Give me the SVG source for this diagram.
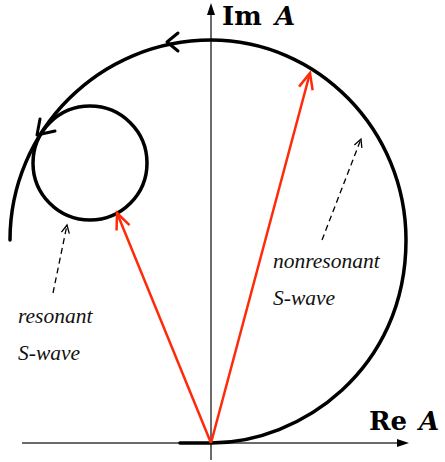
<svg xmlns="http://www.w3.org/2000/svg" width="445" height="462" viewBox="0 0 445 462">
  <style>
    .axis { stroke: #3a3a3a; stroke-width: 1.5; fill: none; }
    .curve { stroke: #000; stroke-width: 3.5; fill: none; stroke-linecap: round; stroke-linejoin: round; }
    .tick { stroke: #000; stroke-width: 3; fill: none; stroke-linecap: round; stroke-linejoin: round; }
    .vec { stroke: #ff2a0a; stroke-width: 2.5; fill: none; }
    .dash { stroke: #000; stroke-width: 1.3; fill: none; stroke-dasharray: 6 4; }
    .lbl { font-family: "Liberation Serif", serif; font-style: italic; font-size: 21.5px; fill: #111; }
    .axlbl { font-family: "DejaVu Serif", serif; font-weight: bold; font-size: 26px; fill: #000; }
  </style>
  <defs>
    <marker id="redHead" markerUnits="userSpaceOnUse" markerWidth="20" markerHeight="20" refX="0" refY="0" viewBox="-18 -10 20 20" orient="auto" overflow="visible">
      <path d="M -16 -7 L 0 0 L -16 7" stroke="#ff2a0a" stroke-width="2.5" fill="none"/>
    </marker>
    <marker id="dashHead" markerUnits="userSpaceOnUse" markerWidth="12" markerHeight="12" refX="0" refY="0" viewBox="-10 -6 12 12" orient="auto" overflow="visible">
      <path d="M -8 -4 L 0 0 L -8 4" stroke="#000" stroke-width="1.3" fill="none"/>
    </marker>
  </defs>

  <g id="axes">
    <line class="axis" x1="211" y1="14" x2="211" y2="460"/>
    <polygon points="211,3 207,15 215,15" fill="#000"/>
    <line class="axis" x1="22" y1="443" x2="398" y2="443"/>
    <polygon points="409,443 397,439 397,447" fill="#000"/>
  </g>

  <g id="label-im">
    <text class="axlbl" x="222" y="25">Im</text>
    <text class="axlbl" x="275" y="25" font-style="italic">A</text>
  </g>
  <g id="label-re">
    <text class="axlbl" x="369" y="430">Re</text>
    <text class="axlbl" x="419" y="430" font-style="italic">A</text>
  </g>

  <g id="nonresonant-curve">
    <path class="curve" d="M 180 443 L 211 443 C 300 443 406 370 406 240 C 406 130 318 40 211 40 C 100 40 10 130 10 240"/>
    <path class="tick" d="M 178 33 L 167 42 L 178 51"/>
    <path class="tick" d="M 40 119 L 37 135 L 55 131"/>
  </g>

  <g id="resonant-circle">
    <circle class="curve" cx="90" cy="163" r="57"/>
  </g>

  <g id="connectors">
    <line class="vec" x1="211" y1="443" x2="310" y2="73" marker-end="url(#redHead)"/>
    <line class="vec" x1="211" y1="443" x2="117" y2="213" marker-end="url(#redHead)"/>
    <line class="dash" x1="53" y1="293" x2="67" y2="225" marker-end="url(#dashHead)"/>
    <line class="dash" x1="322" y1="240" x2="361" y2="139" marker-end="url(#dashHead)"/>
  </g>

  <g id="label-nonresonant">
    <text class="lbl" x="273" y="268">nonresonant</text>
    <text class="lbl" x="273" y="305">S-wave</text>
  </g>
  <g id="label-resonant">
    <text class="lbl" x="18" y="323">resonant</text>
    <text class="lbl" x="18" y="360">S-wave</text>
  </g>
</svg>
